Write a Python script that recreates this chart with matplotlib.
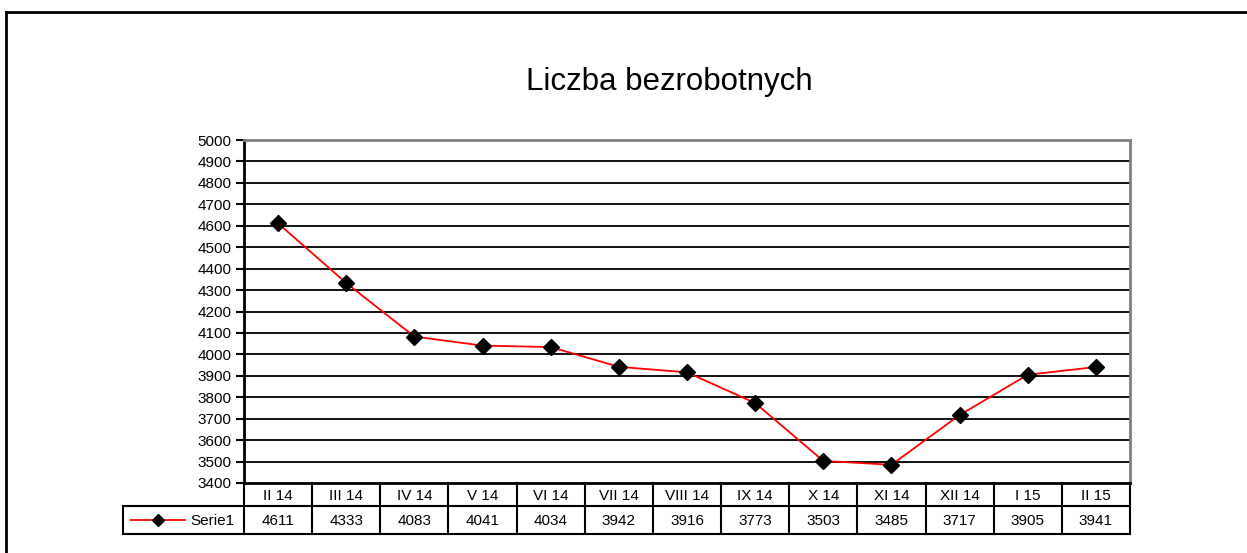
import matplotlib
matplotlib.use("Agg")
import matplotlib.pyplot as plt
from matplotlib.lines import Line2D
import matplotlib.transforms as mtransforms

plt.rcParams['font.family'] = ['Liberation Sans', 'DejaVu Sans']

months = ["II 14", "III 14", "IV 14", "V 14", "VI 14", "VII 14", "VIII 14",
          "IX 14", "X 14", "XI 14", "XII 14", "I 15", "II 15"]
values = [4611, 4333, 4083, 4041, 4034, 3942, 3916, 3773, 3503, 3485, 3717, 3905, 3941]
series_name = "Serie1"
yticks = list(range(3400, 5001, 100))

fig = plt.figure(figsize=(12.47, 5.53), dpi=100)

# outer chart frame (top and left only visible)
fig.add_artist(Line2D([6/1247, 1], [1-12/553, 1-12/553], color='black', lw=2, transform=fig.transFigure))
fig.add_artist(Line2D([6/1247, 6/1247], [0, 1-12/553], color='black', lw=2, transform=fig.transFigure))

ax = fig.add_axes([244/1247, 1-483/553, 886/1247, 343/553])
x = list(range(len(months)))
ax.plot(x, values, color='red', lw=1.3, marker='D', markersize=8,
        markerfacecolor='black', markeredgecolor='black', zorder=3)

ax.set_xlim(-0.5, len(months)-0.5)
ax.set_ylim(3400, 5000)
ax.set_yticks(yticks)
ax.set_yticklabels([str(t) for t in yticks], fontsize=11)
ax.set_xticks([])
for t in yticks[1:-1]:
    ax.axhline(t, color='black', lw=1.3, zorder=1)
ax.spines['left'].set_linewidth(2)
ax.spines['bottom'].set_linewidth(2)
ax.spines['top'].set_color('#808080')
ax.spines['top'].set_linewidth(2)
ax.spines['right'].set_color('#808080')
ax.spines['right'].set_linewidth(2)
ax.tick_params(axis='y', length=6, width=1.5, pad=3)

fig.text(669/1247, 1-82/553, "Liczba bezrobotnych", fontsize=22.5, ha='center', va='center')

# data table below the axis
tr = mtransforms.blended_transform_factory(ax.transData, ax.transAxes)
h1 = -23/343
h2 = -51/343
n = len(months)
leg_left = -0.5 - 121/68.15
kw = dict(color='black', lw=1.5, transform=tr, clip_on=False)
for i in range(n + 1):
    ax.add_line(Line2D([i-0.5, i-0.5], [0, h2], **kw))
ax.add_line(Line2D([-0.5, n-0.5], [h1, h1], **kw))
ax.add_line(Line2D([leg_left, n-0.5], [h2, h2], **kw))
ax.add_line(Line2D([leg_left, -0.5], [h1, h1], **kw))
ax.add_line(Line2D([leg_left, leg_left], [h1, h2], **kw))
for i, (m, v) in enumerate(zip(months, values)):
    ax.text(i, h1/2 - 0.004, m, transform=tr, ha='center', va='center', fontsize=11)
    ax.text(i, (h1+h2)/2 - 0.004, str(v), transform=tr, ha='center', va='center', fontsize=11)

# legend key inside table
ymid = (h1+h2)/2
ax.add_line(Line2D([-0.5 - 113/68.15, -0.5 - 59/68.15], [ymid, ymid], color='red', lw=1.3,
                   transform=tr, clip_on=False))
ax.add_line(Line2D([-0.5 - 86/68.15], [ymid], marker='D', markersize=6, color='black',
                   transform=tr, clip_on=False, ls='none'))
ax.text(-0.5 - 10/68.15, ymid - 0.004, series_name, transform=tr, ha='right', va='center', fontsize=11)

fig.savefig("out.png", dpi=100)
